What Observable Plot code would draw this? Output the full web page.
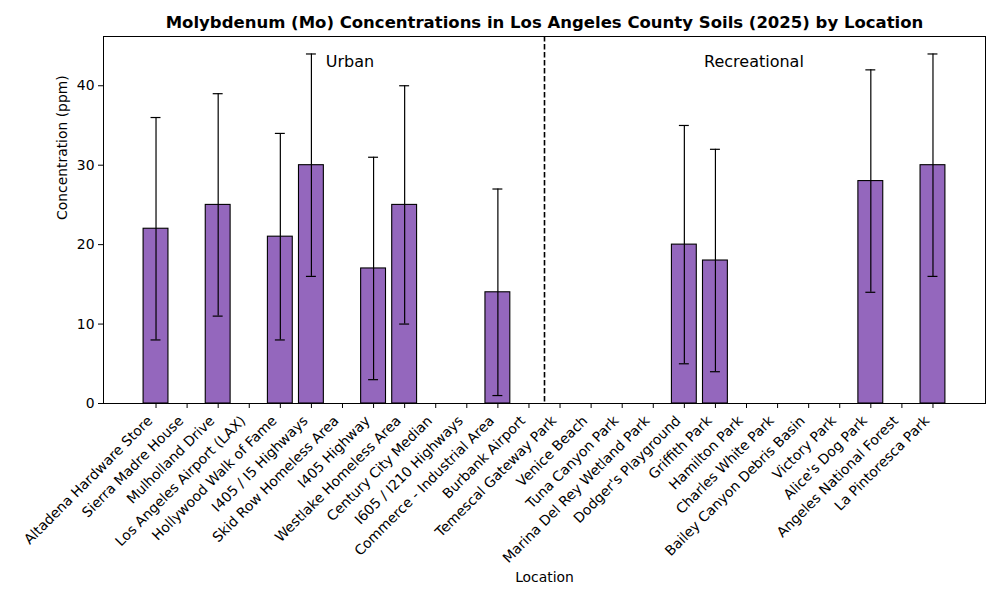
<!DOCTYPE html>
<html>
<head>
<meta charset="utf-8">
<script src="https://cdn.jsdelivr.net/npm/d3@7"></script>
<script src="https://cdn.jsdelivr.net/npm/@observablehq/plot@0.6"></script>
<style>
  html, body { margin: 0; padding: 0; background: #fff; }
  #chart svg { display: block; }
</style>
</head>
<body>
<div id="chart"></div>
<script>
const locations = [
  "Altadena Hardware Store", "Sierra Madre House", "Mulholland Drive",
  "Los Angeles Airport (LAX)", "Hollywood Walk of Fame", "I405 / I5 Highways",
  "Skid Row Homeless Area", "I405 Highway", "Westlake Homeless Area",
  "Century City Median", "I605 / I210 Highways", "Commerce - Industrial Area",
  "Burbank Airport", "Temescal Gateway Park", "Venice Beach", "Tuna Canyon Park",
  "Marina Del Rey Wetland Park", "Dodger's Playground", "Griffith Park",
  "Hamilton Park", "Charles White Park", "Bailey Canyon Debris Basin",
  "Victory Park", "Alice's Dog Park", "Angeles National Forest", "La Pintoresca Park"
];
const means = [22, null, 25, null, 21, 30, null, 17, 25, null, null, 14, null,
  null, null, null, null, 20, 18, null, null, null, null, 28, null, 30];
const errors = [14, null, 14, null, 13, 14, null, 14, 15, null, null, 13, null,
  null, null, null, null, 15, 14, null, null, null, null, 14, null, 14];
const sectionLabels = ["Urban", "Recreational"];
const urbanCount = 13;

const rows = locations.map((name, i) => ({i, name, mean: means[i], err: errors[i]}))
  .filter(d => d.mean != null);

const halfBar = 0.4, halfCap = 0.16;
const font = "DejaVu Sans, sans-serif";
const tickIdx = d3.range(locations.length);

const chart = Plot.plot({
  width: 1000,
  height: 600,
  marginLeft: 103,
  marginRight: 15,
  marginTop: 36,
  marginBottom: 197,
  style: {fontFamily: font, fontSize: "13.9px", color: "black", background: "white"},
  x: {type: "linear", domain: [-1.69, 26.69], label: null},
  y: {domain: [0, 46.2], label: null},
  marks: [
    Plot.axisX({ticks: tickIdx, tickFormat: () => "", tickSize: 5, label: null}),
    Plot.axisX({
      ticks: tickIdx,
      tickFormat: i => locations[i],
      tickRotate: -45,
      tickSize: 0,
      tickPadding: 11,
      dx: -6,
      dy: 4,
      label: null
    }),
    Plot.axisY({ticks: [0, 10, 20, 30, 40], tickSize: 5, tickPadding: 4, label: null}),
    Plot.rectY(rows, {
      x1: d => d.i - halfBar, x2: d => d.i + halfBar, y1: 0, y2: "mean",
      fill: "#9467bd", stroke: "black", strokeWidth: 1.1
    }),
    Plot.ruleX(rows, {x: "i", y1: d => d.mean - d.err, y2: d => d.mean + d.err, stroke: "black", strokeWidth: 1.2}),
    Plot.ruleY(rows, {y: d => d.mean + d.err, x1: d => d.i - halfCap, x2: d => d.i + halfCap, stroke: "black", strokeWidth: 1.2}),
    Plot.ruleY(rows, {y: d => d.mean - d.err, x1: d => d.i - halfCap, x2: d => d.i + halfCap, stroke: "black", strokeWidth: 1.2}),
    Plot.ruleX([urbanCount - 0.5], {stroke: "black", strokeWidth: 1.6, strokeDasharray: "5.5,2.5"}),
    Plot.text(sectionLabels, {
      x: [6.24, 19.24], y: [43, 43],
      text: d => d, fontSize: 16, fill: "black", textAnchor: "middle", lineAnchor: "middle"
    }),
    Plot.frame({stroke: "black", strokeWidth: 1}),
    Plot.text(["Molybdenum (Mo) Concentrations in Los Angeles County Soils (2025) by Location"], {
      frameAnchor: "top", dy: -14, lineAnchor: "middle", fontSize: 16.5, fontWeight: "bold", fill: "black"
    }),
    Plot.text(["Location"], {frameAnchor: "bottom", dy: 174, lineAnchor: "middle", fontSize: 13.9, fill: "black"}),
    Plot.text(["Concentration (ppm)"], {frameAnchor: "left", dx: -41, rotate: -90, lineAnchor: "middle", fontSize: 13.9, fill: "black"})
  ]
});
document.getElementById("chart").appendChild(chart);
</script>
</body>
</html>
